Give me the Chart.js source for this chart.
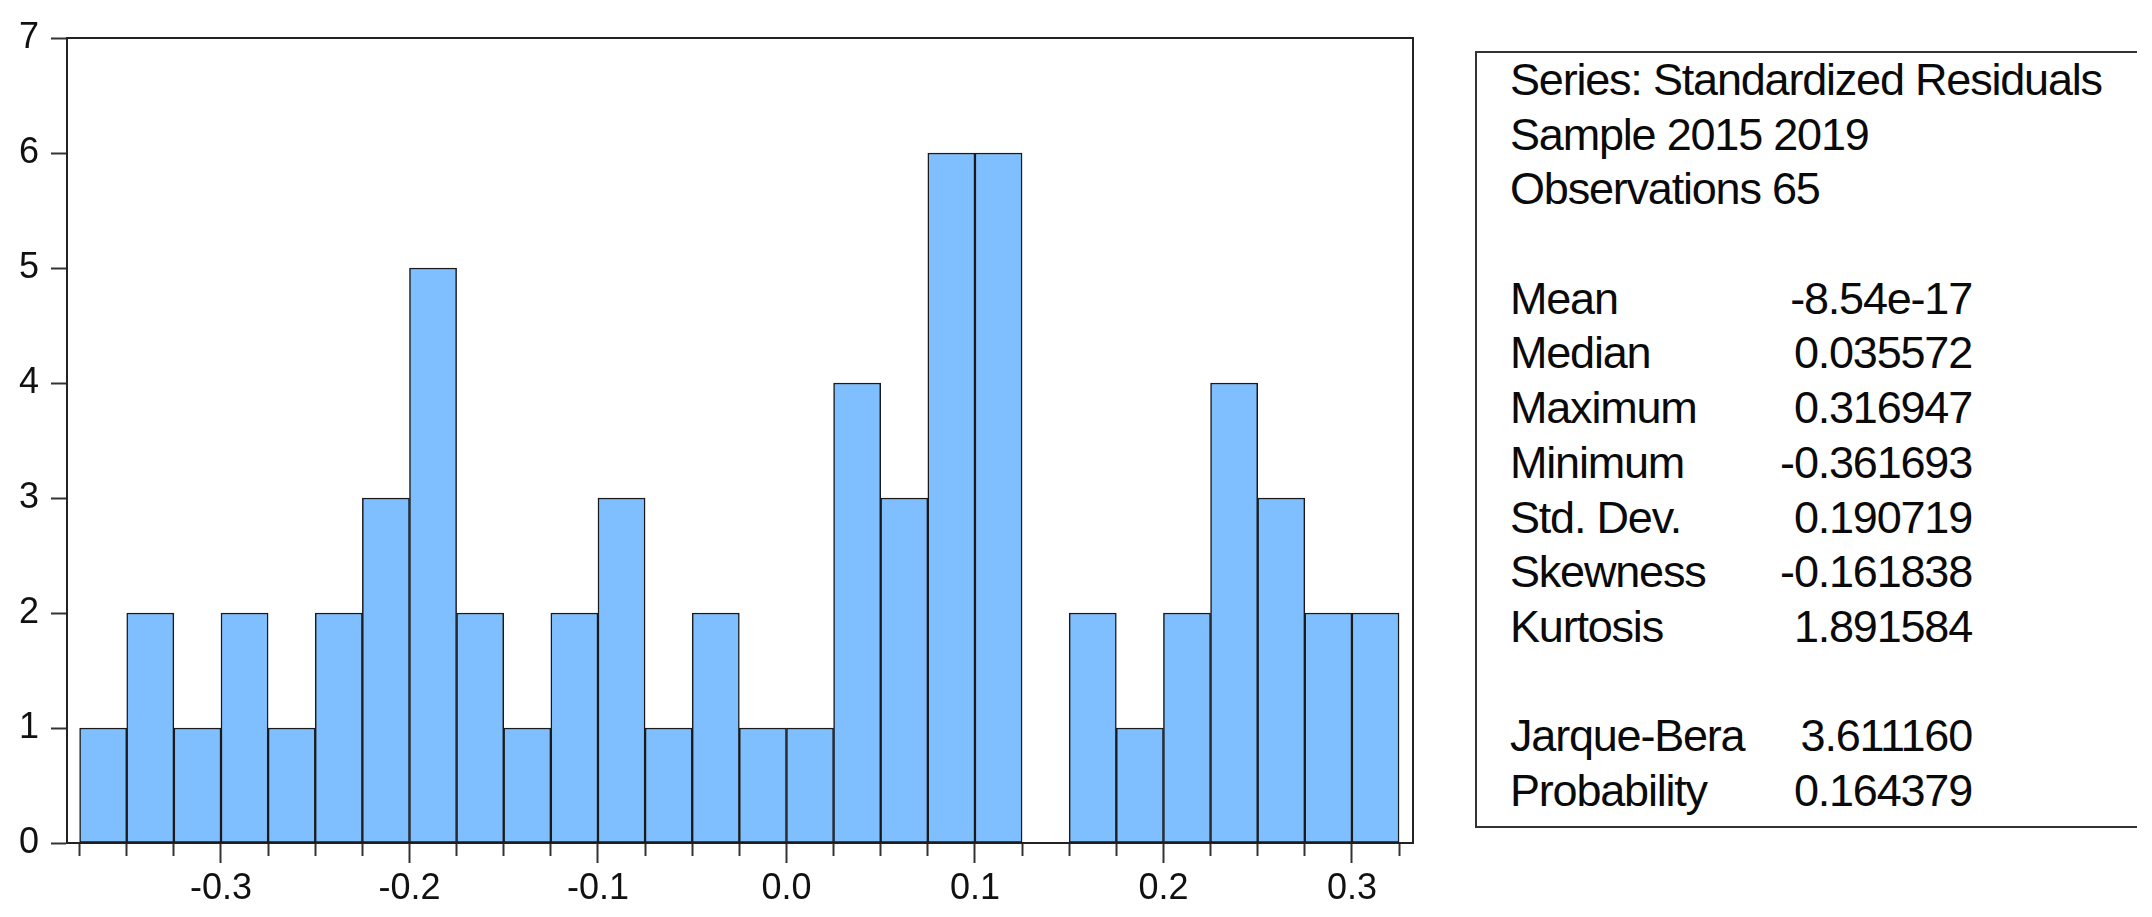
<!DOCTYPE html>
<html>
<head>
<meta charset="utf-8">
<script src="https://cdn.jsdelivr.net/npm/chart.js@4/dist/chart.umd.min.js"></script>
<style>
  html, body { margin: 0; padding: 0; background: #fff; }
  body { width: 2152px; height: 917px; position: relative; overflow: hidden; font-family: "Liberation Sans", Arial, sans-serif; }
  #chartBox { position: absolute; left: 0; top: 0; width: 1440px; height: 917px; }
  #stats {
    position: absolute; left: 1475px; top: 51px; width: 660px; height: 773px;
    border-left: 2px solid #333; border-top: 2px solid #333; border-bottom: 2px solid #333;
    color: #0a0a0a; font-size: 45px; letter-spacing: -1.2px;
  }
  #stats .row { position: relative; height: 54.7px; line-height: 54.7px; padding-left: 33px; white-space: nowrap; }
  #stats .val { position: absolute; right: 165px; top: 0; }
</style>
</head>
<body>
<div id="chartBox"><canvas id="histo"></canvas></div>
<div id="stats"></div>
<script>
// histogram bins
var binStart = -0.375;
var binWidth = 0.025;
var counts = [1, 2, 1, 2, 1, 2, 3, 5, 2, 1, 2, 3, 1, 2, 1, 1, 4, 3, 6, 6, 0, 2, 1, 2, 4, 3, 2, 2];
var xLabels = [-0.3, -0.2, -0.1, 0.0, 0.1, 0.2, 0.3];
var yTicks = [0, 1, 2, 3, 4, 5, 6, 7];

// stats panel
var headerLines = ['Series: Standardized Residuals', 'Sample 2015 2019', 'Observations 65'];
var statNames = ['Mean', 'Median', 'Maximum', 'Minimum', 'Std. Dev.', 'Skewness', 'Kurtosis', '', 'Jarque-Bera', 'Probability'];
var statValues = ['-8.54e-17', '0.035572', '0.316947', '-0.361693', '0.190719', '-0.161838', '1.891584', '', '3.611160', '0.164379'];

var panel = document.getElementById('stats');
var lines = headerLines.map(function (t) { return [t, '']; }).concat([['', '']]);
statNames.forEach(function (n, i) { lines.push([n, statValues[i]]); });
lines.forEach(function (l) {
    var row = document.createElement('div');
    row.className = 'row';
    row.textContent = l[0] || '\u00a0';
    if (l[1]) {
        var v = document.createElement('span');
        v.className = 'val';
        v.textContent = l[1];
        row.appendChild(v);
    }
    panel.appendChild(row);
});

var points = counts.map(function (c, i) {
    return { x: binStart + binWidth * (i + 0.5), y: c };
});

var xMin = -0.3817, xMax = 0.3324;
var axisColor = '#222';
var fontSpec = { family: '"Liberation Sans", Arial, sans-serif', size: 36 };

function isMajor(v) {
    return Math.abs(v * 10 - Math.round(v * 10)) < 1e-6;
}

var ctx = document.getElementById('histo').getContext('2d');
new Chart(ctx, {
    type: 'bar',
    data: {
        datasets: [{
            data: points,
            backgroundColor: '#80bfff',
            borderColor: '#1a1a1a',
            borderWidth: 1.5,
            borderSkipped: false,
            barPercentage: 1,
            categoryPercentage: 1
        }]
    },
    options: {
        responsive: true,
        maintainAspectRatio: false,
        animation: false,
        layout: { padding: { left: 0, top: 38, right: 27, bottom: 0 } },
        plugins: { legend: { display: false }, tooltip: { enabled: false } },
        scales: {
            x: {
                type: 'linear',
                position: 'bottom',
                min: xMin,
                max: xMax,
                offset: false,
                afterFit: function (s) { s.height = 74; },
                border: { display: true, color: axisColor, width: 2 },
                grid: {
                    offset: false,
                    drawOnChartArea: false,
                    drawTicks: true,
                    tickLength: 20,
                    tickWidth: 2,
                    tickColor: '#333',
                    tickBorderDash: function (c) {
                        return (c.tick && isMajor(c.tick.value)) ? [] : [12, 40];
                    }
                },
                ticks: {
                    stepSize: binWidth,
                    includeBounds: false,
                    autoSkip: false,
                    maxRotation: 0,
                    maxTicksLimit: 100,
                    padding: 4,
                    color: '#111',
                    font: fontSpec,
                    callback: function (v) {
                        if (!isMajor(v)) return '';
                        var r = Math.round(v * 10) / 10;
                        return xLabels.indexOf(r) >= 0 ? r.toFixed(1) : '';
                    }
                }
            },
            x2: {
                type: 'linear',
                position: 'top',
                min: xMin,
                max: xMax,
                afterFit: function (s) { s.height = 0; },
                border: { display: true, color: axisColor, width: 2 },
                grid: { display: false, drawTicks: false },
                ticks: { display: false }
            },
            y: {
                min: yTicks[0],
                max: yTicks[yTicks.length - 1],
                afterFit: function (s) { s.width = 67; },
                border: { display: true, color: axisColor, width: 2 },
                grid: { drawOnChartArea: false, tickLength: 16, tickWidth: 2, tickColor: '#333' },
                ticks: { stepSize: 1, padding: 12, color: '#111', font: fontSpec }
            },
            y2: {
                position: 'right',
                min: yTicks[0],
                max: yTicks[yTicks.length - 1],
                afterFit: function (s) { s.width = 0; },
                border: { display: true, color: axisColor, width: 2 },
                grid: { display: false, drawTicks: false },
                ticks: { display: false }
            }
        }
    }
});
</script>
</body>
</html>
